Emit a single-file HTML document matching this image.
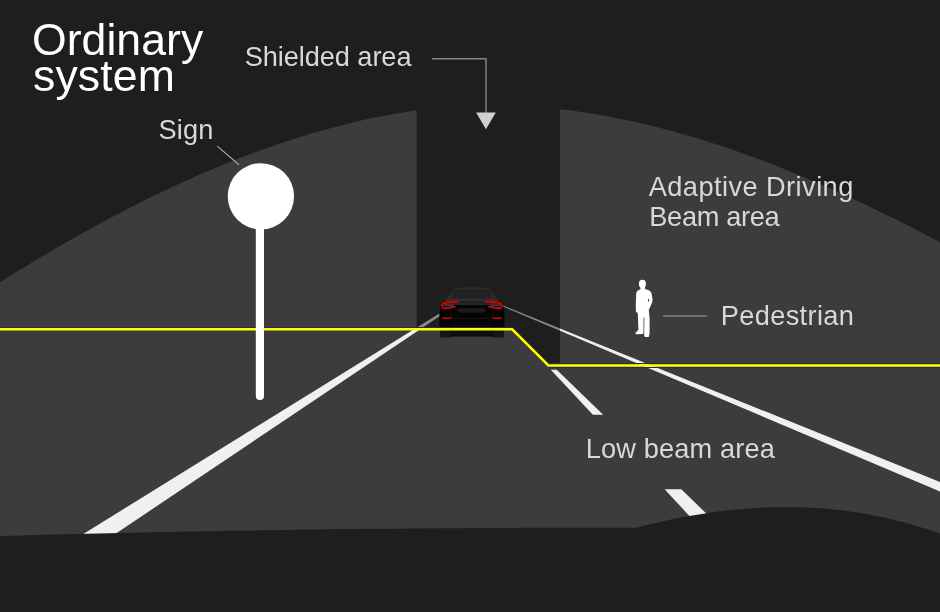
<!DOCTYPE html>
<html><head><meta charset="utf-8"><style>
html,body{margin:0;padding:0;background:#1e1e1e;width:940px;height:612px;overflow:hidden}
svg{display:block;will-change:transform}
text{font-family:"Liberation Sans",sans-serif}
</style></head><body>
<svg width="940" height="612" viewBox="0 0 940 612">
<defs>
 <clipPath id="shc"><path d="M416.6,0 L560,0 L560,365.2 L548.6,365.2 L512.2,329 L416.6,329 Z"/></clipPath>
 <clipPath id="nsh"><path d="M0,0 H940 V612 H0 Z M416.6,0 L560,0 L560,365.2 L548.6,365.2 L512.2,329 L416.6,329 Z" clip-rule="evenodd"/></clipPath>
</defs>
<rect width="940" height="612" fill="#1e1e1e"/>
<g fill="#3c3c3c"><path d="M0,282.28 L10.68,275.58 L21.36,268.98 L32.05,262.47 L42.73,256.06 L53.41,249.75 L64.09,243.55 L74.77,237.45 L85.46,231.45 L96.14,225.57 L106.82,219.8 L117.5,214.14 L128.18,208.59 L138.87,203.17 L149.55,197.86 L160.23,192.68 L170.91,187.61 L181.59,182.68 L192.28,177.87 L202.96,173.2 L213.64,168.65 L224.32,164.24 L235.01,159.97 L245.69,155.84 L256.37,151.85 L267.05,147.99 L277.73,144.29 L288.42,140.73 L299.1,137.32 L309.78,134.07 L320.46,130.96 L331.14,128.01 L341.83,125.22 L352.51,122.59 L363.19,120.12 L373.87,117.82 L384.55,115.68 L395.24,113.71 L405.92,111.91 L416.6,110.28 L416.6,612 L0,612 Z"/><path d="M560,109.17 L569.74,110.36 L579.49,111.69 L589.23,113.16 L598.97,114.77 L608.72,116.51 L618.46,118.39 L628.21,120.41 L637.95,122.55 L647.69,124.82 L657.44,127.22 L667.18,129.74 L676.92,132.39 L686.67,135.15 L696.41,138.04 L706.15,141.04 L715.9,144.15 L725.64,147.37 L735.38,150.7 L745.13,154.15 L754.87,157.69 L764.62,161.34 L774.36,165.09 L784.1,168.94 L793.85,172.89 L803.59,176.93 L813.33,181.06 L823.08,185.28 L832.82,189.6 L842.56,194 L852.31,198.48 L862.05,203.04 L871.79,207.69 L881.54,212.41 L891.28,217.21 L901.03,222.09 L910.77,227.03 L920.51,232.05 L930.26,237.13 L940,242.28 L940,612 L560,612 Z"/><path d="M0,329 L512.2,329 L548.6,365.2 L940,365.2 L940,612 L0,612 Z"/></g>
<g fill="#f0f0f0" clip-path="url(#nsh)"><path d="M41.3,560 L446,309.4 L446,311.9 L76.5,560 Z"/><path d="M500,304.3 L960,490 L960,500 L500,305.3 Z"/><path d="M550.8,369.8 L556.7,369.8 L603.2,414.7 L592.9,414.7 Z"/><path d="M664.6,489.2 L681.3,489.2 L715,522 L695,522 Z"/></g>
<g fill="#8a8a8a" clip-path="url(#shc)"><path d="M41.3,560 L446,309.4 L446,311.9 L76.5,560 Z"/><path d="M500,304.3 L960,490 L960,500 L500,305.3 Z"/><path d="M550.8,369.8 L556.7,369.8 L603.2,414.7 L592.9,414.7 Z"/><path d="M664.6,489.2 L681.3,489.2 L715,522 L695,522 Z"/></g>

<g id="car">
 <!-- cabin -->
 <path d="M454.3,288.1 Q472,286.6 489.4,288.1 L499.3,302.3 L444.2,302.3 Z" fill="#2c2c2c"/>
 <rect x="452.4" y="289.6" width="39" height="9.2" rx="2" fill="#222"/>
 <rect x="446" y="298.8" width="52" height="2.4" fill="#2f2f2f"/>
 <path d="M441,305 Q441,301 446,301 L498,301 Q503,301 503,305 L504.4,312 L504.4,328 Q504.4,330 502,330 L442,330 Q439.4,330 439.4,328 L439.4,312 Z" fill="#030303"/>
 <rect x="444" y="301.2" width="56" height="4" fill="#262626"/>
 <!-- taillights -->
 <path d="M458.2,301.5 L445.6,302.5 Q442.2,302.9 442,305.5 Q442,308.4 445.6,308.2 L454.6,306.7" fill="none" stroke="#d30000" stroke-width="2" stroke-linecap="round" stroke-linejoin="round"/>
 <rect x="443.5" y="304.2" width="10" height="2" fill="#3a3a3a"/>
 <path d="M485.6,301.5 L498.2,302.5 Q501.6,302.9 501.8,305.5 Q501.8,308.4 498.2,308.2 L489.2,306.7" fill="none" stroke="#d30000" stroke-width="2" stroke-linecap="round" stroke-linejoin="round"/>
 <rect x="490.5" y="304.2" width="10" height="2" fill="#3a3a3a"/>
 <!-- plate recess -->
 <path d="M455.9,310.4 L461,308.1 L482,308.1 L487.3,310.4 L482,312.7 L461,312.7 Z" fill="#1b1b1b"/>
 <path d="M449.5,309.5 Q451,318.6 456,318.6 L488,318.6 Q493,318.6 494.5,309.5" fill="none" stroke="#1f1f1f" stroke-width="0.8"/>
 <rect x="441.8" y="317.3" width="10" height="1.6" rx="0.8" fill="#c00000"/>
 <rect x="492" y="317.3" width="10" height="1.6" rx="0.8" fill="#c00000"/>
 <rect x="451.5" y="325.2" width="40.5" height="1" fill="#161616"/>
 <!-- lower -->
 <rect x="440" y="328" width="11" height="9.6" rx="1.5" fill="#161616"/>
 <rect x="493" y="328" width="11" height="9.6" rx="1.5" fill="#161616"/>
 <rect x="450" y="328" width="44" height="8.6" fill="#0e0e0e"/>
</g>
<path d="M0,327.5 L511.6,327.5 M549.2,363.5 L940,363.5 M549.2,367.5 L940,367.5" fill="none" stroke="#2b2b42" stroke-width="1"/>
<path d="M0,329.25 L512.2,329.25 L548.4,365.5 L940,365.5" fill="none" stroke="#ffff00" stroke-width="2.5"/>
<path d="M0,536.07 L21.95,535.46 L43.9,534.87 L65.84,534.3 L87.79,533.76 L109.74,533.24 L131.69,532.74 L153.64,532.27 L175.59,531.82 L197.53,531.39 L219.48,530.99 L241.43,530.61 L263.38,530.26 L285.33,529.93 L307.28,529.62 L329.22,529.34 L351.17,529.08 L373.12,528.84 L395.07,528.63 L417.02,528.44 L438.97,528.27 L460.91,528.13 L482.86,528.01 L504.81,527.91 L526.76,527.84 L548.71,527.79 L570.66,527.77 L592.6,527.77 L614.55,527.79 L636.5,527.84 L644.28,525.59 L652.06,523.71 L659.85,521.92 L667.63,520.22 L675.41,518.62 L683.19,517.11 L690.97,515.7 L698.76,514.39 L706.54,513.18 L714.32,512.07 L722.1,511.07 L729.88,510.17 L737.67,509.39 L745.45,508.72 L753.23,508.16 L761.01,507.71 L768.79,507.39 L776.58,507.18 L784.36,507.09 L792.14,507.13 L799.92,507.29 L807.71,507.58 L815.49,507.99 L823.27,508.54 L831.05,509.22 L838.83,510.04 L846.62,510.99 L854.4,512.08 L862.18,513.31 L869.96,514.69 L877.74,516.21 L885.53,517.87 L893.31,519.69 L901.09,521.65 L908.87,523.77 L916.65,526.04 L924.44,528.47 L932.22,531.06 L940,533.8 L940,612 L0,612 Z" fill="#1e1e1e"/>
<!-- sign -->
<g fill="#ffffff">
 <circle cx="260.9" cy="196.3" r="33.15"/>
 <path d="M255.8,196 H264 V396 A4.1,4.1 0 0 1 255.8,396 Z"/>
</g>

<g fill="#ffffff">
 <ellipse cx="642.4" cy="283.9" rx="3.5" ry="4.1"/>
 <path d="M640.6,286.5 L640.4,289.3 Q637.2,290 636.3,292.5 L635.8,303 L635.9,311.5 L637.8,313.3 L638.4,330 Q636.2,331.8 635.3,333.2 L636,334.2 L643,334.1 L643.5,332.8 L643.6,317.5 L644.4,317.5 L644.2,335.5 L644.8,337 L648.8,337 L649.6,333 L649.6,318 L648.8,310 L652.3,302 L652.5,299 L651.4,293 Q650,290 645.2,289.3 L645,286.5 Z"/>
</g>
<ellipse cx="648.5" cy="300.4" rx="0.6" ry="1.4" fill="#3c3c3c"/>
<!-- leaders -->
<g stroke="#959595" stroke-width="1.2" fill="none">
 <path d="M217.3,146.1 L238.9,164.7" stroke="#a8a8a8"/>
 <path d="M432.2,58.8 H486 V113" stroke="#888" stroke-width="1.4"/>
</g>
<path d="M663,316 H707" stroke="#808080" stroke-width="1.6"/>
<path d="M476.1,112.5 H495.8 L485.9,129.2 Z" fill="#cfcfcf"/>
<g font-family="Liberation Sans, sans-serif" fill="#d8d8d8">
 <text x="32" y="55.4" font-size="44.6" fill="#ffffff" textLength="171.2" lengthAdjust="spacing">Ordinary</text>
 <text x="33" y="90.7" font-size="44.6" fill="#ffffff" textLength="141.9" lengthAdjust="spacing">system</text>
 <text x="244.8" y="65.9" font-size="27.2" textLength="166.7" lengthAdjust="spacing">Shielded area</text>
 <text x="158.6" y="139" font-size="27.2" textLength="54.8" lengthAdjust="spacing">Sign</text>
 <text x="648.7" y="196" font-size="27.2" textLength="204.6" lengthAdjust="spacing">Adaptive Driving</text>
 <text x="649.3" y="225.9" font-size="27.2" textLength="130.3" lengthAdjust="spacing">Beam area</text>
 <text x="720.8" y="324.8" font-size="27.2" textLength="133.1" lengthAdjust="spacing">Pedestrian</text>
 <text x="585.7" y="457.7" font-size="27.2" textLength="189.1" lengthAdjust="spacing">Low beam area</text>
</g>
</svg>
</body></html>
